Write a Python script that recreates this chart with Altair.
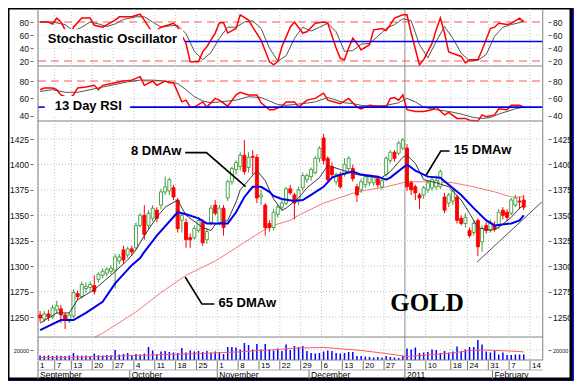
import altair as alt
import pandas as pd

# ---------------- data ----------------
OPEN = [1252,1248,1253,1250,1257,1258,1252,1246,1251,1273,
        1270,1278,1279,1281,1287,1291,1293,1295,1296,1305,
        1316,1311,1317,1318,1340,1350,1340,1347,1355,1360,
        1373,1374,1377,1365,1345,1343,1328,1328,1335,1343,
        1326,1343,1360,1342,1357,1367,1383,1395,1398,1409,
        1397,1408,1407,1368,1360,1342,1338,1351,1358,1362,
        1376,1370,1365,1377,1385,1388,1392,1406,1426,1406,
        1398,1383,1390,1390,1396,1396,1378,1375,1380,1382,
        1382,1386,1378,1390,1404,1412,1411,1416,1416,1382,
        1378,1370,1370,1375,1377,1378,1378,1368,1362,1364,
        1368,1347,1342,1335,1333,1345,1324,1340,1336,1340,
        1340,1355,1353,1352,1360,1364,1365]
HIGH = [1256,1256,1257,1262,1266,1262,1254,1255,1277,1276,
        1285,1284,1285,1291,1294,1298,1299,1301,1312,1312,
        1320,1319,1320,1343,1352,1360,1355,1360,1358,1376,
        1388,1387,1380,1367,1352,1347,1332,1340,1348,1346,
        1337,1360,1365,1360,1360,1385,1398,1404,1412,1424,
        1412,1414,1410,1375,1362,1345,1356,1360,1365,1378,
        1380,1372,1378,1392,1391,1397,1408,1418,1430,1408,
        1402,1392,1393,1406,1408,1400,1381,1386,1390,1390,
        1389,1389,1386,1408,1414,1414,1423,1426,1420,1384,
        1380,1372,1379,1384,1387,1389,1395,1372,1372,1376,
        1370,1350,1352,1338,1345,1347,1340,1343,1346,1344,
        1356,1358,1356,1367,1370,1368,1370]
LOW = [1245,1245,1246,1248,1253,1244,1238,1244,1249,1266,
       1268,1274,1276,1272,1284,1288,1290,1292,1278,1302,
       1302,1308,1310,1316,1338,1326,1336,1344,1343,1356,
       1370,1370,1365,1333,1333,1318,1318,1326,1333,1320,
       1322,1340,1350,1340,1330,1364,1380,1390,1394,1390,
       1392,1390,1362,1360,1330,1334,1335,1348,1354,1360,
       1370,1346,1360,1374,1382,1384,1390,1402,1400,1382,
       1386,1380,1376,1388,1393,1383,1363,1372,1377,1379,
       1379,1377,1375,1388,1401,1403,1409,1414,1374,1370,
       1365,1356,1366,1372,1374,1375,1376,1352,1358,1360,
       1342,1340,1338,1328,1330,1310,1314,1332,1333,1334,
       1337,1346,1344,1350,1358,1356,1355]
CLOSE = [1249,1253,1250,1259,1261,1252,1247,1252,1274,1270,
         1282,1280,1282,1275,1292,1295,1297,1298,1309,1309,
         1306,1317,1314,1340,1350,1331,1352,1357,1347,1373,
         1378,1385,1368,1337,1350,1326,1326,1337,1345,1323,
         1334,1357,1352,1357,1338,1383,1396,1402,1409,1393,
         1407,1407,1367,1370,1338,1338,1353,1358,1362,1376,
         1372,1362,1375,1389,1389,1395,1406,1416,1404,1385,
         1390,1390,1378,1400,1406,1386,1370,1383,1388,1388,
         1387,1380,1384,1406,1412,1406,1421,1424,1378,1375,
         1372,1367,1377,1382,1385,1384,1393,1355,1370,1374,
         1345,1342,1348,1330,1342,1319,1337,1335,1343,1336,
         1353,1350,1348,1365,1367,1363,1358]
VOLUME = [9000,8500,9500,8000,9000,8500,8000,9000,14000,9000,
          8500,9000,8000,13000,9500,9000,10000,9500,20000,11000,
          12000,14000,10000,12000,11000,13000,26000,19000,12000,17000,
          18000,16000,15000,14000,24000,15000,19000,17000,18000,16000,
          18000,15000,17000,16000,12000,26000,26000,25000,21000,34000,
          30000,21000,32000,21000,32000,21000,19000,23000,18000,31000,
          20000,28000,26000,28000,18000,14000,13000,14000,17000,19000,
          18000,14000,13000,14000,16000,16000,8000,8000,7000,6000,
          5000,6000,5000,8000,6000,5000,4000,8000,23000,21000,
          25000,14000,15000,16000,21000,20000,14000,18000,15000,17000,
          27000,17000,21000,26000,26000,40000,31000,17000,15000,19000,
          11000,15000,10000,10000,11000,11000,11000]

MA8_DAY = [0,4,7,9,13,17,21,23,25,28,30,33,35,39,41,42,45,47,48,52,54,56,58,59,62,64,67,69,72,76,79,82,84,87,88,90,92,95,98,101,103,105,108,110,113,115,116]
MA8 = [1244,1254,1254,1267,1277,1291,1306,1316,1330,1348,1358,1365,1350,1338,1335,1341,1345,1363,1375,1394,1384,1366,1355,1357,1367,1377,1387,1399,1395,1390,1388,1387,1393,1407,1409,1401,1385,1382,1378,1365,1352,1338,1335,1338,1348,1357,1360]
MA15_DAY = [0,5,8,11,15,18,22,24,25,28,33,35,38,40,42,45,47,49,51,53,55,56,58,61,63,65,68,70,72,75,77,81,83,84,88,90,93,96,98,101,104,107,109,113,115,116]
MA15 = [1237,1247,1247,1254,1265,1283,1301,1308,1314,1330,1353,1351,1347,1342,1342,1342,1353,1368,1378,1378,1373,1369,1366,1364,1365,1370,1378,1387,1390,1393,1390,1388,1385,1387,1400,1394,1388,1387,1380,1370,1357,1345,1340,1342,1345,1350]
MA65_DAY = [13,15,23,29,35,42,47,55,60,62,68,76,83,88,93,99,104,109,113,116]
MA65 = [1230,1234,1255,1274,1291,1305,1318,1339,1345,1350,1362,1373,1378,1383,1383,1382,1378,1373,1368,1368]
VOLMA_DAY = [0,7,15,23,30,39,47,55,62,68,76,83,88,91,99,103,107,115,116]
VOLMA = [5000,5500,7000,9000,11000,13000,16000,20000,24000,25000,20000,13000,7000,9000,14000,19000,20000,17000,16000]

STOCH_K_DAY = [0,2,3,4,5,6,7,8,10,12,13,15,18,19,22,24,25,27,29,32,33,35,36,38,39,40,42,43,44,45,47,48,50,51,53,55,56,57,58,60,61,63,64,66,68,69,71,72,73,74,75,76,77,79,80,82,83,84,85,87,88,89,91,92,94,95,96,97,98,101,102,103,105,106,108,109,110,112,113,115,116]
STOCH_K = [80,80,77,86,80,68,40,72,86,86,75,72,83,88,88,92,83,63,72,78,72,47,19,19,34,42,63,79,79,63,70,91,83,72,52,19,14,19,42,72,80,63,65,78,80,78,40,24,22,40,55,47,37,45,68,70,67,76,86,91,91,63,14,22,47,68,86,63,34,27,17,22,22,37,70,72,78,76,78,86,80]
STOCH_D_DAY = [0,3,6,8,10,12,14,16,18,20,23,25,27,29,31,33,35,37,39,41,43,45,47,49,51,53,55,57,59,61,63,65,67,69,71,73,75,77,79,81,83,85,87,89,91,93,95,97,99,101,103,105,107,109,111,113,115,116]
STOCH_D = [80,80,76,66,72,80,77,73,77,84,88,88,80,72,74,75,62,35,22,33,55,72,72,80,82,70,40,20,28,55,72,66,72,78,65,35,36,46,47,58,70,76,85,82,45,25,50,73,55,32,20,21,30,58,72,76,79,82]
RSI_DAY = [0,1,3,4,5,7,8,9,11,13,14,15,18,20,22,24,25,27,28,30,31,32,34,35,36,37,39,40,42,43,45,47,48,50,52,53,55,56,58,59,61,62,64,66,68,69,72,74,76,77,79,81,83,84,85,86,87,88,90,92,94,95,97,98,100,102,103,105,106,107,109,110,112,113,115,116]
RSI = [70,72,72,70,64,60,64,72,73,75,70,75,78,80,81,85,75,80,75,80,78,78,56,58,50,50,56,50,60,58,51,64,67,64,64,55,47,47,51,56,56,50,58,60,66,58,54,60,50,48,52,51,50,60,61,58,64,47,45,45,47,50,41,44,37,37,35,34,41,39,41,48,47,52,52,50]
RSI_SIG_DAY = [0,3,6,9,12,15,18,21,24,27,30,33,35,37,39,41,43,45,47,50,53,55,57,59,61,63,66,69,71,73,75,77,80,83,86,88,90,92,95,98,101,104,106,108,110,112,114,116]
RSI_SIG = [68,70,67,67,70,73,76,79,81,81,80,77,70,62,57,55,56,57,58,62,61,57,53,52,53,54,56,61,58,55,54,52,51,52,55,60,56,50,47,45,42,38,37,38,42,45,48,50]

WEEK_POS = [0,4,8,13,18,23,28,33,38,43,48,53,58,63,68,73,78,83,88,93,99,103,108,113,118]
WEEK_LABELS = ["1","7","13","20","27","4","11","18","25","1","8","15","22","29","6","13","20","27","3","10","18","24","31","7","14"]
MONTH_POS = [0,22,43,65,88,109]
MONTH_LABELS = ["September","October","November","December","2011","February"]
YEAR_POS = [88]

PRICE_TICKS = [1250,1275,1300,1325,1350,1375,1400,1425]
OSC_TICKS = [20,40,60,80]
RSI_TICKS = [40,60,80]
VOL_TICKS = [20000]

TREND_T = [105.3,120.8]
TREND_V = [1304,1363]

for arr in (OPEN, HIGH, LOW, CLOSE, VOLUME):
    assert len(arr) == len(CLOSE)
for a, b in ((MA8_DAY, MA8), (MA15_DAY, MA15), (MA65_DAY, MA65), (VOLMA_DAY, VOLMA),
             (STOCH_K_DAY, STOCH_K), (STOCH_D_DAY, STOCH_D), (RSI_DAY, RSI), (RSI_SIG_DAY, RSI_SIG)):
    assert len(a) == len(b), (len(a), len(b))

# ---------------- layout & style ----------------
FONT = "Liberation Sans"
RED = "#ff0000"
GREEN = "#3c9c3c"
BLUE = "#0000f0"
GRID = "#c4c4c4"
W, H = 563, 371          # white frame (whole svg stays within 566 x 373)
PAD_R, PAD_B = 3, 2
X_END = 121.06
RIGHT_OFFSET = -(W - 540)

XS = alt.Scale(domain=[0, 118], range=[25, 527], nice=False, zero=False)
SS = alt.Scale(domain=[0, 100], range=[66, 1], nice=False, zero=False)
RS = alt.Scale(domain=[40, 80], range=[107.8, 73], nice=False, zero=False)
PS = alt.Scale(domain=[1250, 1425], range=[309, 131], nice=False, zero=False)
VS = alt.Scale(domain=[0, 20000], range=[352, 342], nice=False, zero=False)
BS = alt.Scale(domain=[0, 1], range=[353, 371], nice=False, zero=False)
PANELS = {"stoch": (SS, 100, 12.3), "rsi": (RS, 97.2, 34.0),
          "price": (PS, 1442.7, 1230.3), "vol": (VS, 46000, 0)}

ONE = pd.DataFrame({"k": [0]})


def xenc(field="t"):
    return alt.X(f"{field}:Q", scale=XS, axis=None)


def xd(v):
    return alt.XDatum(v, scale=XS, axis=None)


def yaxis(orient, values, size=8.5):
    left = orient == "left"
    return alt.Axis(orient=orient, offset=-25 if left else RIGHT_OFFSET, values=values,
                    title=None, grid=False, domain=False, tickSize=3, tickColor="#666",
                    labelPadding=1.5 if left else 1.5, labelFontSize=size, labelColor="#111",
                    labelFont=FONT, labelOverlap=False, format="d")


def series(days, vals):
    df = pd.DataFrame({"day": days, "v": vals})
    df["t"] = df["day"] + 0.5
    return df


def line(df, scale, color, width, opacity=1):
    return alt.Chart(df).mark_line(color=color, strokeWidth=width, opacity=opacity).encode(
        x=xenc(), y=alt.Y("v:Q", scale=scale, axis=None))


def hline(scale, value, t0, t1, color, width=1, dash=None):
    kw = dict(color=color, strokeWidth=width)
    if dash:
        kw["strokeDash"] = dash
    return alt.Chart(ONE).mark_rule(**kw).encode(
        x=xd(t0), x2=alt.X2Datum(t1), y=alt.YDatum(value, scale=scale, axis=None))


def levels(scale, values, color, dash):
    df = pd.DataFrame({"v": values})
    return alt.Chart(df).mark_rule(color=color, strokeDash=dash, strokeWidth=1).encode(
        x=xd(0), x2=alt.X2Datum(X_END), y=alt.Y("v:Q", scale=scale, axis=None))


def axis_layer(scale, ticks, orient, size=8.5):
    df = pd.DataFrame({"v": ticks})
    return alt.Chart(df).mark_point(opacity=0).encode(
        y=alt.Y("v:Q", scale=scale, axis=yaxis(orient, ticks, size)))


week_df = pd.DataFrame({"t": WEEK_POS, "label": WEEK_LABELS})
grid_df = week_df[~week_df["t"].isin(YEAR_POS)]
year_df = pd.DataFrame({"t": YEAR_POS})
month_df = pd.DataFrame({"t": MONTH_POS, "label": MONTH_LABELS})


def vgrid(scale, top, bottom):
    g = alt.Chart(grid_df).mark_rule(color=GRID, strokeDash=[1, 2]).encode(
        x=xenc(), y=alt.YDatum(top, scale=scale, axis=None), y2=alt.Y2Datum(bottom))
    y = alt.Chart(year_df).mark_rule(color="#8c8c8c").encode(
        x=xenc(), y=alt.YDatum(top, scale=scale, axis=None), y2=alt.Y2Datum(bottom))
    return [g, y]


def frame(scale, top, bottom):
    df = pd.DataFrame({"x": [0, X_END, 0], "x2": [0, X_END, X_END],
                       "y": [top, top, bottom], "y2": [bottom, bottom, bottom]})
    return alt.Chart(df).mark_rule(color="#808080", strokeWidth=1).encode(
        x=alt.X("x:Q", scale=XS, axis=None), x2="x2:Q",
        y=alt.Y("y:Q", scale=scale, axis=None), y2="y2:Q")


def box(scale, t0, t1, v0, v1):
    return alt.Chart(ONE).mark_rect(fill="white").encode(
        x=xd(t0), x2=alt.X2Datum(t1),
        y=alt.YDatum(v0, scale=scale, axis=None), y2=alt.Y2Datum(v1))


def label(scale, t, v, text, size=13, font=FONT, align="left"):
    return alt.Chart(ONE).mark_text(text=text, align=align, baseline="middle", fontSize=size,
                                    font=font, fontWeight="bold", color="black").encode(
        x=xd(t), y=alt.YDatum(v, scale=scale, axis=None))


# ---------------- stochastic panel ----------------
sc, stop, sbot = PANELS["stoch"]
stoch = alt.layer(
    *vgrid(sc, stop, sbot),
    levels(sc, [60, 40], "#d0d0d0", [1, 2]),
    levels(sc, [80, 20], "#ff5555", [8, 5]),
    line(series(STOCH_D_DAY, STOCH_D), sc, "#555555", 1),
    line(series(STOCH_K_DAY, STOCH_K), sc, RED, 1.5),
    hline(sc, 50, 35.3, X_END, BLUE, 1.6),
    box(sc, 1.6, 34.8, 40, 69),
    label(sc, 2.35, 54, "Stochastic Oscillator"),
    frame(sc, stop, sbot),
)

# ---------------- RSI panel ----------------
rc, rtop, rbot = PANELS["rsi"]
rsi = alt.layer(
    *vgrid(rc, rtop, rbot),
    levels(rc, [60], "#d0d0d0", [1, 2]),
    levels(rc, [80], "#ff5555", [8, 5]),
    line(series(RSI_SIG_DAY, RSI_SIG), rc, "#555555", 1),
    line(series(RSI_DAY, RSI), rc, RED, 1.5),
    hline(rc, 50, 0, 1.6, BLUE, 1.6),
    hline(rc, 50, 22.1, X_END, BLUE, 1.6),
    box(rc, 2.1, 21.6, 39.8, 62.8),
    label(rc, 4.0, 51.5, "13 Day RSI"),
    frame(rc, rtop, rbot),
)

# ---------------- price panel ----------------
pc, ptop, pbot = PANELS["price"]
candles = pd.DataFrame({"day": range(len(CLOSE)), "open": OPEN, "high": HIGH,
                        "low": LOW, "close": CLOSE})
candles["t"] = candles["day"] + 0.5
candles["dir"] = ["up" if c >= o else "down" for o, c in zip(OPEN, CLOSE)]
dir_stroke = alt.Scale(domain=["up", "down"], range=[GREEN, RED])
dir_fill = alt.Scale(domain=["up", "down"], range=["#ffffff", RED])

wicks = alt.Chart(candles).mark_rule(strokeWidth=1).encode(
    x=xenc(), y=alt.Y("low:Q", scale=pc, axis=None), y2="high:Q",
    stroke=alt.Stroke("dir:N", scale=dir_stroke, legend=None))
bodies = alt.Chart(candles).mark_bar(size=3, strokeWidth=0.9).encode(
    x=xenc(), y=alt.Y("open:Q", scale=pc, axis=None), y2="close:Q",
    fill=alt.Fill("dir:N", scale=dir_fill, legend=None),
    stroke=alt.Stroke("dir:N", scale=dir_stroke, legend=None))

trend = alt.Chart(pd.DataFrame({"t": TREND_T, "v": TREND_V})).mark_line(
    color="#505050", strokeWidth=1).encode(x=xenc(), y=alt.Y("v:Q", scale=pc, axis=None))

LEADERS = {
    "8": [(35.3, 1411.6), (40.4, 1411.6), (49.8, 1378.2)],
    "15": [(98.7, 1413.2), (96.6, 1413.2), (93.1, 1389.6)],
    "65": [(42.3, 1262.8), (39.3, 1262.8), (35.3, 1289.3)],
}
lead_rows = []
for name, pts in LEADERS.items():
    for i, (t, v) in enumerate(pts):
        lead_rows.append({"name": name, "o": i, "t": t, "v": v})
leaders = alt.Chart(pd.DataFrame(lead_rows)).mark_line(color="black", strokeWidth=1.6).encode(
    x=xenc(), y=alt.Y("v:Q", scale=pc, axis=None), detail="name:N", order="o:Q")

price = alt.layer(
    *vgrid(pc, ptop, pbot),
    levels(pc, PRICE_TICKS, GRID, [1, 2]),
    line(series(MA65_DAY, MA65), pc, "#f07a7a", 1),
    wicks, bodies,
    line(series(MA8_DAY, MA8), pc, "#3a3a3a", 1),
    line(series(MA15_DAY, MA15), pc, BLUE, 2),
    trend, leaders,
    label(pc, 22.3, 1413.5, "8 DMAw"),
    label(pc, 99.7, 1414.2, "15 DMAw"),
    label(pc, 43.3, 1263.8, "65 DMAw"),
    label(pc, 93.3, 1263.8, "GOLD", size=25, font="Liberation Serif", align="center"),
    frame(pc, ptop, pbot),
)

# ---------------- volume panel ----------------
vc, vtop, vbot = PANELS["vol"]
vol_df = pd.DataFrame({"t": [d + 0.5 for d in range(len(VOLUME))], "v": VOLUME})
vol = alt.layer(
    *vgrid(vc, vtop, vbot),
    levels(vc, [20000], GRID, [1, 2]),
    alt.Chart(vol_df).mark_rule(color="#0000ff", strokeWidth=1.5).encode(
        x=xenc(), y=alt.Y("v:Q", scale=vc, axis=None), y2=alt.Y2Datum(0)),
    line(series(VOLMA_DAY, VOLMA), vc, "#ff5a5a", 1),
    frame(vc, vtop, vbot),
)

# ---------------- date band ----------------
band = alt.layer(
    alt.Chart(week_df).mark_rule(color="#777777").encode(
        x=xenc(), y=alt.YDatum(0, scale=BS, axis=None), y2=alt.Y2Datum(0.5)),
    alt.Chart(week_df).mark_text(align="left", baseline="middle", dx=2, fontSize=8,
                                 font=FONT, color="black").encode(
        x=xenc(), y=alt.YDatum(0.26, scale=BS, axis=None), text="label:N"),
    alt.Chart(month_df).mark_rule(color="#777777").encode(
        x=xenc(), y=alt.YDatum(0.5, scale=BS, axis=None), y2=alt.Y2Datum(1)),
    alt.Chart(month_df).mark_text(align="left", baseline="middle", dx=2, fontSize=8.5,
                                  font=FONT, color="black").encode(
        x=xenc(), y=alt.YDatum(0.76, scale=BS, axis=None), text="label:N"),
    hline(BS, 0.5, 0, X_END, "#b0b0b0", 1),
)

chart = alt.layer(
    stoch, axis_layer(SS, OSC_TICKS, "left"), axis_layer(SS, OSC_TICKS, "right"),
    rsi, axis_layer(RS, RSI_TICKS, "left"), axis_layer(RS, RSI_TICKS, "right"),
    price, axis_layer(PS, PRICE_TICKS, "left"), axis_layer(PS, PRICE_TICKS, "right"),
    vol, axis_layer(VS, VOL_TICKS, "left", 5.5), axis_layer(VS, VOL_TICKS, "right", 5.5),
    band,
).resolve_scale(y="independent").properties(
    width=W, height=H,
    padding={"left": 0, "top": 0, "right": PAD_R, "bottom": PAD_B},
    autosize=alt.AutoSizeParams(type="none"),
    background="#1414c8",
).configure_view(fill="white", stroke="black", strokeWidth=3)

chart.save("out.html", embed_options={"renderer": "svg", "actions": False})
